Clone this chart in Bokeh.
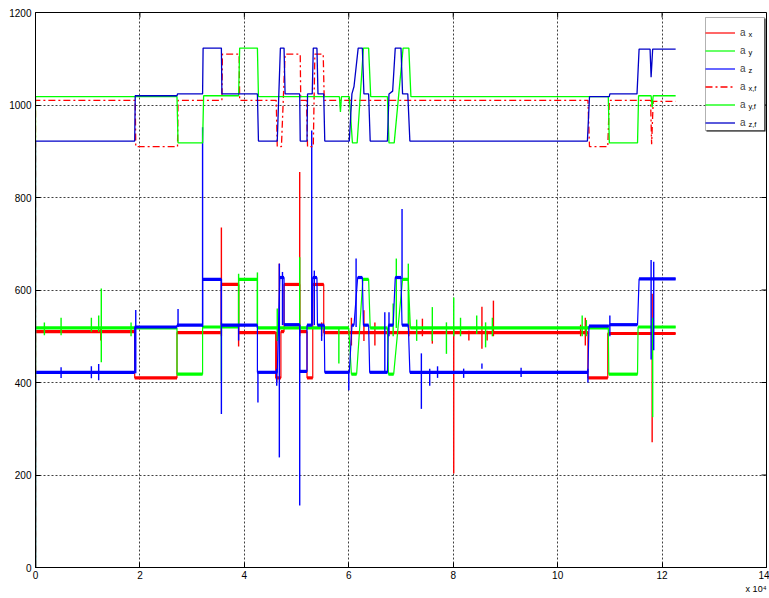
from bokeh.plotting import figure
from bokeh.models import (Range1d, FixedTicker, Legend, LegendItem, BoxAnnotation, Title)
from bokeh.core.properties import value
from bokeh.embed import file_html
from bokeh.resources import INLINE

# ---------------- data (x in units of 10^4 samples) ----------------
X_TICKS = [0, 2, 4, 6, 8, 10, 12, 14]
Y_TICKS = [0, 200, 400, 600, 800, 1000, 1200]
LABELS = ["a", "a", "a", "a", "a", "a"]
SUBS = ["x", "y", "z", "x,f", "y,f", "z,f"]
X_SCALE_NOTE = "x 10\u2074"

AX = [(0, 0), (0, 510), (1.90, 510), (1.90, 410), (2.71, 410), (2.71, 508), (3.56, 508),
      (3.56, 612), (3.89, 612), (3.89, 508), (4.60, 508), (4.60, 410), (4.70, 410),
      (4.70, 510), (4.76, 510), (4.76, 612), (5.06, 612), (5.06, 510), (5.20, 510),
      (5.20, 410), (5.31, 410), (5.31, 612), (5.52, 612), (5.52, 508), (10.58, 508),
      (10.58, 410), (10.96, 410), (10.96, 506), (12.26, 506)]
AY = [(0, 0), (0, 518), (2.71, 518), (2.71, 418), (3.20, 418), (3.20, 520), (3.89, 520),
      (3.89, 623), (4.25, 623), (4.25, 518), (6.00, 518), (6.05, 418), (6.15, 418),
      (6.27, 623), (6.38, 623), (6.41, 518), (6.74, 518), (6.76, 418), (6.86, 418),
      (7.03, 623), (7.14, 623), (7.18, 518), (10.97, 518), (10.98, 418), (11.53, 418),
      (11.54, 520), (12.26, 520)]
AZ = [(0, 0), (0, 422), (1.90, 422), (1.90, 520), (2.71, 520), (2.71, 524), (3.20, 524),
      (3.20, 623), (3.56, 623), (3.56, 524), (4.25, 524), (4.25, 422), (4.63, 422),
      (4.68, 627), (4.76, 627), (4.76, 525), (5.06, 525), (5.06, 424), (5.20, 424),
      (5.20, 524), (5.30, 524), (5.31, 627), (5.39, 627), (5.40, 524), (5.53, 524),
      (5.54, 422), (6.01, 422), (6.06, 524), (6.10, 524), (6.17, 627), (6.26, 627),
      (6.28, 524), (6.38, 524), (6.40, 422), (6.74, 422), (6.76, 524), (6.85, 524),
      (6.89, 627), (7.00, 627), (7.02, 524), (7.14, 524), (7.17, 422), (10.58, 422),
      (10.60, 522), (10.98, 522), (11.00, 525), (11.53, 525), (11.56, 624), (12.26, 624)]
AX_F = [(0, 0), (0, 1010), (1.91, 1010), (1.92, 910), (2.72, 910), (2.73, 1010),
        (3.57, 1010), (3.58, 1110), (3.90, 1110), (3.91, 1010), (4.61, 1010), (4.63, 910),
        (4.71, 910), (4.78, 1110), (5.07, 1110), (5.08, 1010), (5.19, 1010), (5.21, 910),
        (5.32, 910), (5.35, 1110), (5.51, 1110), (5.53, 1010), (10.58, 1010), (10.61, 910),
        (10.96, 910), (10.99, 1010), (11.78, 1010), (11.80, 915), (11.83, 1008), (12.26, 1008)]
AY_F = [(0, 0), (0, 1018), (2.71, 1018), (2.73, 918), (3.20, 918), (3.22, 1020),
        (3.89, 1020), (3.91, 1123), (4.25, 1123), (4.27, 1018), (5.82, 1018), (5.84, 985),
        (5.86, 1018), (6.01, 1018), (6.07, 918), (6.16, 918), (6.28, 1123), (6.38, 1123),
        (6.42, 1018), (6.74, 1018), (6.77, 918), (6.87, 918), (7.04, 1123), (7.15, 1123),
        (7.19, 1018), (10.97, 1018), (10.99, 918), (11.53, 918), (11.55, 1020),
        (11.79, 1020), (11.81, 995), (11.83, 1020), (12.26, 1020)]
AZ_F = [(0, 0), (0, 922), (1.90, 922), (1.91, 1020), (2.71, 1020), (2.72, 1024),
        (3.20, 1024), (3.21, 1123), (3.56, 1123), (3.57, 1024), (4.25, 1024), (4.27, 922),
        (4.63, 922), (4.69, 1123), (4.76, 1123), (4.78, 1024), (5.06, 1024), (5.07, 922),
        (5.20, 922), (5.21, 1024), (5.30, 1024), (5.32, 1123), (5.39, 1123), (5.41, 1024),
        (5.52, 1024), (5.54, 922), (6.01, 922), (6.06, 1024), (6.10, 1040), (6.18, 1123),
        (6.26, 1123), (6.29, 1024), (6.38, 1024), (6.41, 922), (6.74, 922), (6.77, 1024),
        (6.84, 1030), (6.89, 1123), (7.00, 1123), (7.03, 1024), (7.13, 1024), (7.17, 922),
        (10.57, 922), (10.61, 1018), (10.99, 1018), (11.00, 1024), (11.52, 1024),
        (11.56, 1121), (11.77, 1121), (11.79, 1060), (11.82, 1121), (12.26, 1121)]

# spikes of the raw signals: (x, low, high)
AX_SPK = [(1.25, 491, 515), (3.56, 500, 735), (3.89, 478, 612), (4.62, 401, 510),
          (4.67, 500, 657), (5.06, 500, 855), (5.48, 500, 530), (6.05, 480, 540),
          (6.29, 490, 556), (6.50, 480, 530), (7.15, 500, 552), (7.41, 500, 538),
          (7.60, 484, 512), (8.01, 203, 515), (8.30, 491, 512), (8.55, 473, 564),
          (8.65, 491, 512), (8.77, 500, 577), (10.44, 500, 525), (10.53, 480, 540),
          (11.81, 271, 592)]
AY_SPK = [(0.17, 502, 530), (0.49, 502, 540), (1.07, 510, 540), (1.21, 510, 545),
          (1.26, 444, 603), (1.83, 500, 530), (3.56, 404, 530), (3.89, 520, 635),
          (4.25, 518, 638), (4.63, 490, 560), (5.06, 518, 671), (5.81, 441, 520),
          (6.85, 500, 571), (6.91, 518, 668), (7.14, 518, 657), (7.30, 490, 536),
          (7.60, 490, 563), (7.87, 462, 530), (8.01, 500, 584), (8.14, 500, 540),
          (8.45, 505, 545), (8.62, 476, 530), (8.75, 500, 540), (10.47, 500, 545),
          (10.55, 500, 535), (11.82, 325, 540)]
AZ_SPK = [(0.49, 410, 433), (1.07, 409, 435), (1.21, 405, 440), (1.92, 420, 557),
          (2.73, 520, 559), (3.20, 520, 952), (3.56, 332, 623), (3.89, 491, 524),
          (4.26, 357, 422), (4.62, 393, 430), (4.67, 238, 657), (4.73, 524, 639),
          (5.06, 134, 525), (5.29, 524, 945), (5.34, 524, 642), (5.48, 490, 524),
          (6.00, 383, 422), (6.14, 520, 668), (6.69, 422, 552), (6.77, 500, 552),
          (7.02, 624, 775), (7.39, 343, 463), (7.55, 393, 430), (7.70, 410, 435),
          (8.20, 410, 430), (8.55, 441, 430), (9.30, 412, 432), (10.58, 400, 430),
          (11.00, 500, 545), (11.79, 450, 665), (11.84, 470, 661)]

C_X, C_Y, C_Z, C_ZF = "#FF0000", "#00FF00", "#0000FF", "#0000C8"
FONT = "Liberation Sans"

# ---------------- figure ----------------
W, H = 769, 598
BL, BR, BT, BB = 35, 3, 12, 31
FW, FH = W - BL - BR, H - BT - BB
X0, X1, Y0, Y1 = 0, 14, 0, 1200
PX = (X1 - X0) / FW     # data units per pixel
PY = (Y1 - Y0) / FH

p = figure(width=W, height=H, x_range=Range1d(X0, X1), y_range=Range1d(Y0, Y1),
           output_backend="svg", toolbar_location=None,
           min_border_left=BL, min_border_right=BR, min_border_top=BT, min_border_bottom=BB)
p.background_fill_color = "white"
p.border_fill_color = "white"
p.outline_line_color = "black"
p.outline_line_width = 1

for axis, ticks in ((p.xaxis[0], X_TICKS), (p.yaxis[0], Y_TICKS)):
    axis.ticker = FixedTicker(ticks=ticks)
    axis.major_tick_in = 5
    axis.major_tick_out = 0
    axis.minor_tick_line_color = None
    axis.axis_line_color = "black"
    axis.major_tick_line_color = "black"
    axis.major_label_text_font = FONT
    axis.major_label_text_font_size = "10px"
    axis.major_label_text_color = "black"
p.xaxis.major_label_standoff = 3
p.yaxis.major_label_standoff = 4

p.add_layout(Title(text=X_SCALE_NOTE, align="right", text_font=FONT,
                   text_font_size="9px", text_font_style="normal", text_color="black",
                   standoff=0), "below")

p.xgrid.ticker = FixedTicker(ticks=X_TICKS)
p.ygrid.ticker = FixedTicker(ticks=Y_TICKS)
for g in (p.xgrid[0], p.ygrid[0]):
    g.grid_line_color = "black"
    g.grid_line_alpha = 0.75
    g.grid_line_dash = "2 2"
    g.grid_line_width = 1

# inward ticks on the top and right frame edges (5 px long)
p.segment(x0=[X1 - 5 * PX] * len(Y_TICKS), y0=Y_TICKS, x1=[X1] * len(Y_TICKS), y1=Y_TICKS,
          line_color="black", line_width=1)
p.segment(x0=X_TICKS, y0=[Y1 - 5 * PY] * len(X_TICKS), x1=X_TICKS, y1=[Y1] * len(X_TICKS),
          line_color="black", line_width=1)


def unzip(pts):
    return [a for a, _ in pts], [b for _, b in pts]


def raw_series(pts, spikes, color):
    xs, ys = unzip(pts)
    r = p.line(xs, ys, line_color=color, line_width=1.2)
    x0, x1, yy = [], [], []
    for (xa, ya), (xb, yb) in zip(pts[:-1], pts[1:]):
        if ya == yb and ya > 0:
            x0.append(xa); x1.append(xb); yy.append(ya)
    p.segment(x0=x0, y0=yy, x1=x1, y1=yy, line_color=color, line_width=3.2)
    sx = [s[0] for s in spikes]
    p.segment(x0=sx, y0=[s[1] for s in spikes], x1=sx, y1=[s[2] for s in spikes],
              line_color=color, line_width=1.4)
    return r


r1 = raw_series(AX, AX_SPK, C_X)
r2 = raw_series(AY, AY_SPK, C_Y)
r3 = raw_series(AZ, AZ_SPK, C_Z)
xs, ys = unzip(AX_F)
r4 = p.line(xs, ys, line_color=C_X, line_width=1.3, line_dash="7 3 2 3")
xs, ys = unzip(AY_F)
r5 = p.line(xs, ys, line_color=C_Y, line_width=1.3)
xs, ys = unzip(AZ_F)
r6 = p.line(xs, ys, line_color=C_ZF, line_width=1.3)

# ---------------- legend ----------------
PAD, GW, STAND, LABW, IH, SP = 4, 30, 5, 16, 15, 3
LW = 2 * PAD + GW + STAND + LABW
LH = 2 * PAD + 6 * IH + 5 * SP
lx = FW - 2 - LW
ly = FH - 5 - LH

for dx, col, lc in ((1, "black", None), (0, "white", "black")):
    p.add_layout(BoxAnnotation(left=lx + dx, right=lx + LW + dx, bottom=ly - dx,
                               top=ly + LH - dx, left_units="screen", right_units="screen",
                               bottom_units="screen", top_units="screen",
                               fill_color=col, fill_alpha=1, line_color=lc, line_width=1))

legend = Legend(items=[LegendItem(label=lab, renderers=[r])
                       for lab, r in zip(LABELS, [r1, r2, r3, r4, r5, r6])],
                location=(lx, ly), padding=PAD, spacing=SP, glyph_width=GW,
                glyph_height=IH, label_height=IH, label_width=LABW, label_standoff=STAND,
                margin=0, border_line_color=None, background_fill_alpha=0,
                label_text_font=FONT, label_text_font_size="10px")
p.add_layout(legend)

sub_px = lx + PAD + GW + STAND + 4
sub_x, sub_y = [], []
for i in range(len(SUBS)):
    cy = ly + LH - PAD - IH / 2 - i * (IH + SP)
    sub_x.append(sub_px * PX)
    sub_y.append((cy - 5) * PY)
subs = p.text(x=sub_x, y=sub_y, text=SUBS, text_font=value(FONT),
              text_font_size=value("7.5px"), text_baseline="middle", text_align="left",
              text_color="black")
subs.level = "overlay"

open("out.html", "w").write(file_html(p, INLINE))
